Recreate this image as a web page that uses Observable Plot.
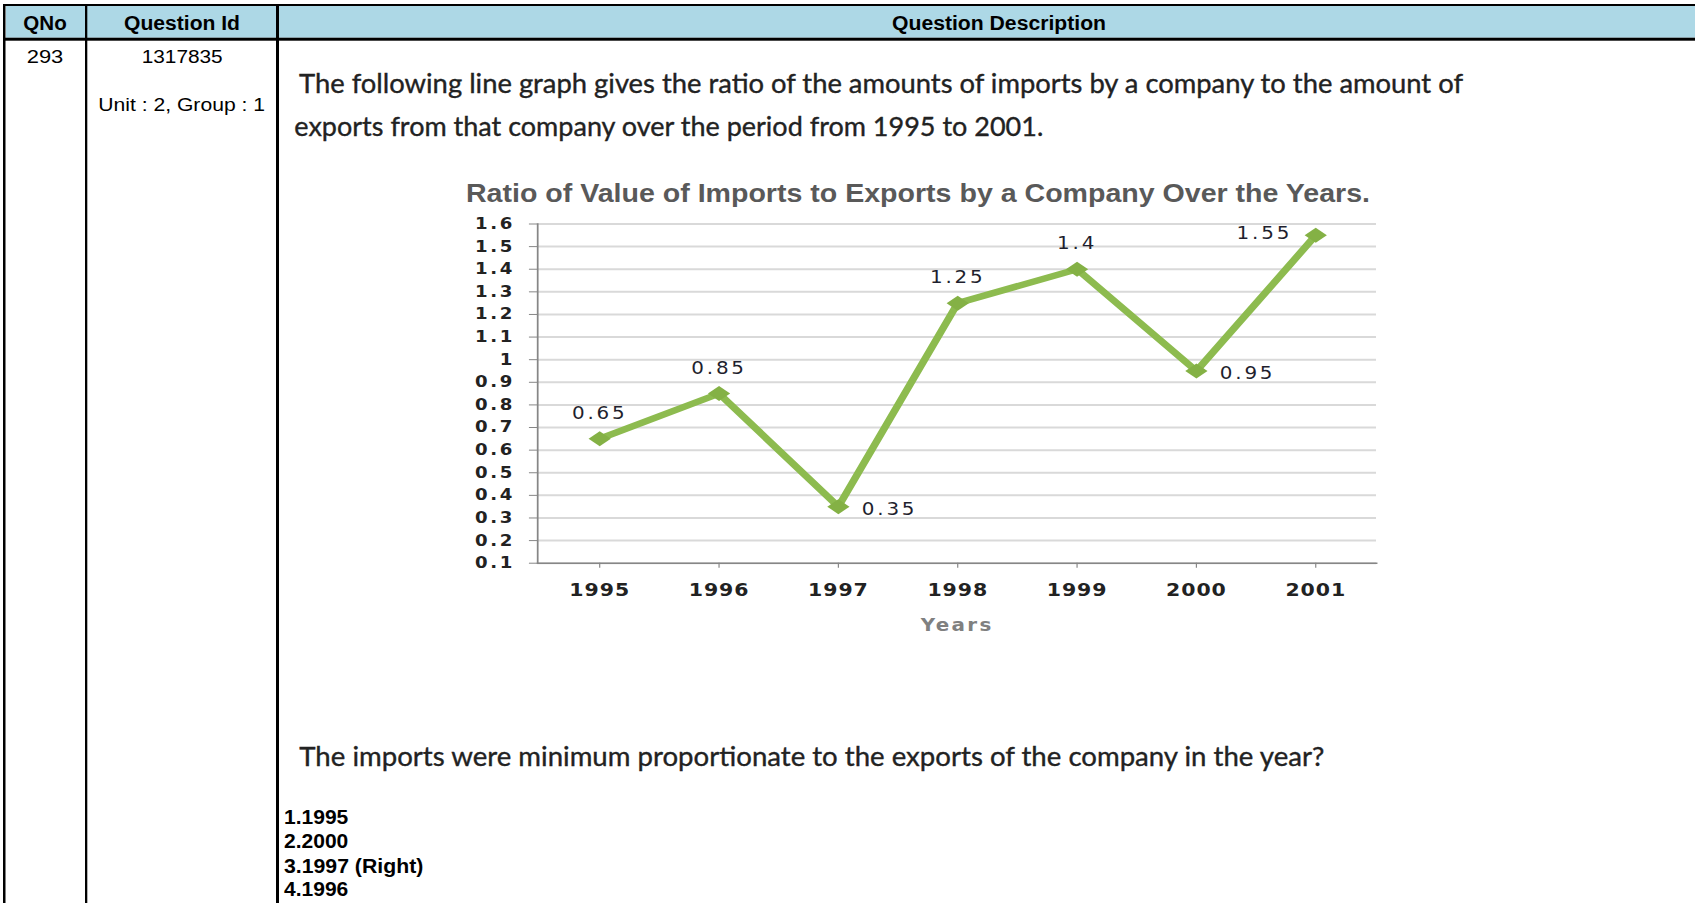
<!DOCTYPE html>
<html>
<head>
<meta charset="utf-8">
<script src="https://cdn.jsdelivr.net/npm/d3@7"></script>
<script src="https://cdn.jsdelivr.net/npm/@observablehq/plot@0.6"></script>
<style>
  html, body { margin: 0; padding: 0; background: #fff; }
  body { width: 1695px; height: 903px; overflow: hidden; position: relative; }
  #page { position: absolute; left: 0; top: 0; }
  #chart { position: absolute; left: 440px; top: 210px; transform-origin: 0 0; transform: scaleX(1.17); }
</style>
</head>
<body>
<svg id="page" width="1695" height="903" xmlns="http://www.w3.org/2000/svg">
  <!-- table frame -->
  <rect x="6" y="6" width="1689" height="31.7" fill="#ADD8E6"/>
  <rect x="4" y="4" width="1691" height="2" fill="#000"/>
  <rect x="4" y="37.7" width="1691" height="3" fill="#000"/>
  <rect x="3" y="4" width="2.5" height="899" fill="#000"/>
  <rect x="85" y="4" width="2.3" height="899" fill="#000"/>
  <rect x="276" y="4" width="3" height="899" fill="#000"/>
  <g font-family="'Liberation Sans', Arial, sans-serif" fill="#000">
    <text x="23.3" y="30" font-size="20" font-weight="bold" textLength="43.4" lengthAdjust="spacingAndGlyphs">QNo</text>
    <text x="124" y="30" font-size="20" font-weight="bold" textLength="116" lengthAdjust="spacingAndGlyphs">Question Id</text>
    <text x="892" y="30" font-size="20" font-weight="bold" textLength="214" lengthAdjust="spacingAndGlyphs">Question Description</text>
    <text x="26.7" y="63" font-size="18" textLength="36.6" lengthAdjust="spacingAndGlyphs">293</text>
    <text x="141.7" y="63" font-size="18" textLength="81" lengthAdjust="spacingAndGlyphs">1317835</text>
    <text x="98.3" y="111" font-size="18" textLength="166.7" lengthAdjust="spacingAndGlyphs">Unit : 2, Group : 1</text>
    <text x="284" y="824" font-size="19.5" font-weight="bold" textLength="64.3" lengthAdjust="spacingAndGlyphs">1.1995</text>
    <text x="284" y="848.3" font-size="19.5" font-weight="bold" textLength="64.3" lengthAdjust="spacingAndGlyphs">2.2000</text>
    <text x="284" y="872.7" font-size="19.5" font-weight="bold" textLength="139.3" lengthAdjust="spacingAndGlyphs">3.1997 (Right)</text>
    <text x="284" y="896" font-size="19.5" font-weight="bold" textLength="64.3" lengthAdjust="spacingAndGlyphs">4.1996</text>
  </g>
  <g font-family="Lato, 'Open Sans', sans-serif" fill="#222" stroke="#222" stroke-width="0.35" font-size="26.5">
    <text x="299" y="93.3" textLength="1164" lengthAdjust="spacingAndGlyphs">The following line graph gives the ratio of the amounts of imports by a company to the amount of</text>
    <text x="294.3" y="135.5" textLength="749" lengthAdjust="spacingAndGlyphs">exports from that company over the period from 1995  to 2001.</text>
    <text x="299.3" y="765.7" textLength="1025" lengthAdjust="spacingAndGlyphs">The imports were minimum proportionate to the exports of the company in the year?</text>
  </g>
  <text x="466" y="201.7" font-family="'Liberation Sans', Arial, sans-serif" font-weight="bold" font-size="25.5" fill="#595959" textLength="904" lengthAdjust="spacingAndGlyphs">Ratio of Value of Imports to Exports by a Company Over the Years.</text>
</svg>
<div id="chart"></div>
<script>
// ---- data ----
const years = ["1995", "1996", "1997", "1998", "1999", "2000", "2001"];
const ratios = [0.65, 0.85, 0.35, 1.25, 1.4, 0.95, 1.55];
const yTicks = [0.1, 0.2, 0.3, 0.4, 0.5, 0.6, 0.7, 0.8, 0.9, 1.0, 1.1, 1.2, 1.3, 1.4, 1.5, 1.6];
const xLabel = "Years";

// ---- build ----
const n = ratios.length;
const data = years.map((year, i) => {
  const v = ratios[i];
  let side = "top";
  if (i === n - 1) side = "left";
  else if (i > 0 && v < ratios[i - 1] && v < ratios[i + 1]) side = "right";
  return {year, ratio: v, label: String(v), side};
});

const diamond = {
  draw(ctx) {
    const w = 9.5, h = 7.5;
    ctx.moveTo(0, -h); ctx.lineTo(w, 0); ctx.lineTo(0, h); ctx.lineTo(-w, 0); ctx.closePath();
  }
};

const green = "#8dbb4f";
const labelFont = {fontSize: 17, fill: "#1f1f2e"};

const chart = Plot.plot({
  width: 820,
  height: 440,
  marginLeft: 83,
  marginRight: 20,
  marginTop: 13.5,
  marginBottom: 87.3,
  style: {fontFamily: "'DejaVu Sans', Verdana, sans-serif", background: "transparent", color: "#222", overflow: "visible"},
  x: {type: "point", domain: years, padding: 0.5, axis: null},
  y: {domain: [0.1, 1.6], axis: null},
  marks: [
    Plot.gridY(yTicks, {stroke: "#d9d9d9", strokeOpacity: 1, strokeWidth: 2}),
    Plot.axisY(yTicks, {tickSize: 7, tickPadding: 12.5, stroke: "#868686", fill: "#222", fontSize: 15.5, fontWeight: "bold", label: null, tickFormat: d => String(+d.toFixed(1))}),
    Plot.axisX(years, {tickSize: 5, tickPadding: 15, stroke: "#868686", fill: "#222", fontSize: 17.5, fontWeight: "bold", label: null}),
    Plot.frame({anchor: "left", stroke: "#868686", strokeWidth: 1.5}),
    Plot.frame({anchor: "bottom", stroke: "#868686", strokeWidth: 1.5}),
    Plot.line(data, {x: "year", y: "ratio", stroke: green, strokeWidth: 6.5, strokeLinejoin: "miter"}),
    Plot.dot(data, {x: "year", y: "ratio", symbol: diamond, fill: "#84b145", stroke: "none"}),
    Plot.text(data.filter(d => d.side === "top"), {x: "year", y: "ratio", text: "label", dy: -20, lineAnchor: "bottom", ...labelFont}),
    Plot.text(data.filter(d => d.side === "right"), {x: "year", y: "ratio", text: "label", dx: 20, dy: 3, textAnchor: "start", lineAnchor: "middle", ...labelFont}),
    Plot.text(data.filter(d => d.side === "left"), {x: "year", y: "ratio", text: "label", dx: -20.2, dy: -2, textAnchor: "end", lineAnchor: "middle", ...labelFont}),
    Plot.text([xLabel], {frameAnchor: "bottom", text: d => d, dy: 68, lineAnchor: "bottom", fontSize: 17, fontWeight: "bold", fill: "#808080"})
  ]
});

document.getElementById("chart").appendChild(chart);

// letter spacing to mimic the wide original lettering
chart.querySelectorAll('g[aria-label="y-axis tick label"] text').forEach(t => t.style.letterSpacing = "2.2px");
chart.querySelectorAll('g[aria-label="x-axis tick label"] text').forEach(t => t.style.letterSpacing = "0.8px");
chart.querySelectorAll('g[aria-label="text"] text').forEach(t => {
  t.style.letterSpacing = t.textContent === xLabel ? "2px" : "2.4px";
});
</script>
</body>
</html>
